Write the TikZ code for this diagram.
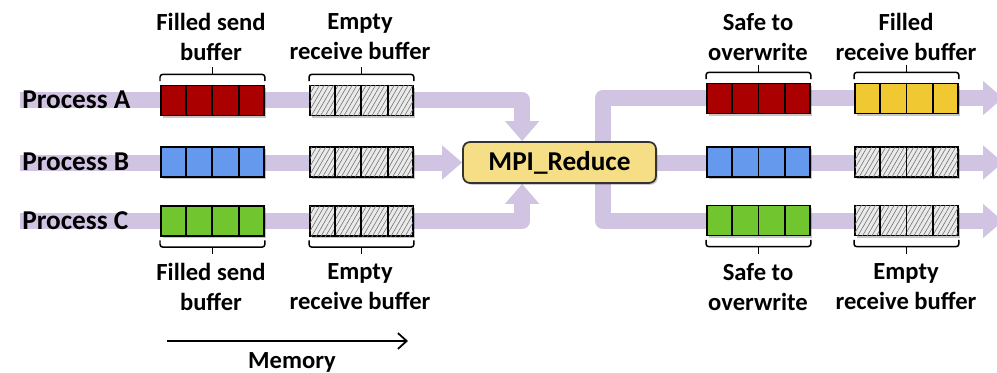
\documentclass[tikz,border=0pt]{standalone}
\usepackage{fontspec}
\setmainfont{Carlito}
\usetikzlibrary{arrows.meta,patterns.meta,shadows,calc,backgrounds}

\definecolor{bandc}{RGB}{209,195,226}
\definecolor{redc}{RGB}{170,0,0}
\definecolor{bluec}{RGB}{100,153,238}
\definecolor{greenc}{RGB}{113,198,47}
\definecolor{yellowc}{RGB}{240,200,50}
\definecolor{hatchbg}{RGB}{234,234,234}
\definecolor{mpic}{RGB}{246,222,135}

% a four-cell buffer: name, left x, centre y, cell style
\newcommand{\buffer}[4]{%
  \node[bufbox,#4,anchor=west] (#1) at (#2,#3) {};
  \foreach \k in {1,2,3}
    \draw[line width=1.1pt] ($(#1.north west)!\k/4!(#1.north east)$) -- ($(#1.south west)!\k/4!(#1.south east)$);
}
% bracket with a tick above / below a buffer
\newcommand{\bracketabove}[1]{%
  \draw[bracket] ([yshift=2pt]#1.north west) -- ([yshift=5.8pt]#1.north west) -- ([yshift=5.8pt]#1.north east) -- ([yshift=2pt]#1.north east);
  \draw[bracket] ([yshift=5.8pt]#1.north) -- ([yshift=9.8pt]#1.north);
}
\newcommand{\bracketbelow}[1]{%
  \draw[bracket] ([yshift=-2pt]#1.south west) -- ([yshift=-5.8pt]#1.south west) -- ([yshift=-5.8pt]#1.south east) -- ([yshift=-2pt]#1.south east);
  \draw[bracket] ([yshift=-5.8pt]#1.south) -- ([yshift=-9.8pt]#1.south);
}

\begin{document}
\begin{tikzpicture}[x=0.02cm,y=-0.02cm,
  band/.style={line width=0.32cm, draw=bandc, line join=round},
  headtip/.style={-{Triangle[length=0.4cm,width=0.66cm]}},
  bufbox/.style={rectangle, draw=black, line width=1.1pt, inner sep=0pt,
    minimum width=2.06cm, minimum height=0.6cm,
    drop shadow={shadow xshift=1.2pt, shadow yshift=-1.2pt, fill=black, opacity=0.22}},
  redcell/.style={fill=redc},
  bluecell/.style={fill=bluec},
  greencell/.style={fill=greenc},
  yellowcell/.style={fill=yellowc},
  emptycell/.style={fill=hatchbg, postaction={pattern={Lines[angle=60,distance=2.3pt,line width=0.35pt]}, pattern color=black!55}},
  bracket/.style={line width=0.85pt, rounded corners=1.6pt},
  lbl/.style={font=\fontsize{14}{17}\selectfont\bfseries, align=center, inner sep=0pt},
  proc/.style={font=\fontsize{15.5}{18}\selectfont\bfseries, anchor=west, inner sep=0pt},
]
\clip (0,0) rectangle (997,372);

% central operation
\node[rectangle, rounded corners=4pt, draw=black!80, line width=1pt, fill=mpic,
      minimum width=3.86cm, minimum height=0.82cm, inner sep=0pt,
      font=\fontsize{15.5}{18}\selectfont\bfseries,
      drop shadow={shadow xshift=1pt, shadow yshift=-1pt, fill=black, opacity=0.2}]
      (mpi) at (559.5,162.5) {MPI\_Reduce};

% process names
\node[proc] (pA) at (22,100) {Process A};
\node[proc] (pB) at (22,162) {Process B};
\node[proc] (pC) at (22,221) {Process C};

% buffers before the call
\buffer{sendA}{160}{100.5}{redcell}
\buffer{sendB}{160}{162}{bluecell}
\buffer{sendC}{160}{221}{greencell}
\buffer{recvA}{309}{100.5}{emptycell}
\buffer{recvB}{309}{162}{emptycell}
\buffer{recvC}{309}{221}{emptycell}

% buffers after the call
\buffer{safeA}{706}{98.5}{redcell}
\buffer{safeB}{706}{162}{bluecell}
\buffer{safeC}{706}{220.5}{greencell}
\buffer{outA}{854}{98.5}{yellowcell}
\buffer{outB}{854}{162}{emptycell}
\buffer{outC}{854}{220.5}{emptycell}

% brackets and captions
\bracketabove{sendA}
\bracketabove{recvA}
\bracketabove{safeA}
\bracketabove{outA}
\bracketbelow{sendC}
\bracketbelow{recvC}
\bracketbelow{safeC}
\bracketbelow{outC}

\node[lbl] (tl1) at (211,37) {Filled send\\buffer};
\node[lbl] (tl2) at (360,37) {Empty\\receive buffer};
\node[lbl] (tr1) at (758,37) {Safe to\\overwrite};
\node[lbl] (tr2) at (906,37) {Filled\\receive buffer};
\node[lbl] (bl1) at (211,287) {Filled send\\buffer};
\node[lbl] (bl2) at (360,287) {Empty\\receive buffer};
\node[lbl] (br1) at (758,287) {Safe to\\overwrite};
\node[lbl] (br2) at (906,287) {Empty\\receive buffer};

% memory direction
\coordinate (m0) at (167,341);
\coordinate (m1) at (408,341);
\draw[line width=1pt, -{Straight Barb[length=5pt,width=9pt]}] (m0) -- (m1);
\node[lbl] (mem) at (292,362) {Memory};

% flow bands
\coordinate (a0) at (20,100);
\coordinate (b0) at (20,162.5);
\coordinate (c0) at (20,221);
\coordinate (inA) at ($(mpi.north west)+(60,0)$);
\coordinate (inC) at ($(mpi.south west)+(60,0)$);
\coordinate (split) at (603,162);
\coordinate (endA) at (1003,98);
\coordinate (endB) at (1003,162.5);
\coordinate (endC) at (1003,221);
\begin{scope}[on background layer]
  \draw[band,headtip] (a0) -- (a0 -| inA) -- (inA);
  \draw[band,headtip] (b0) -- (mpi.west);
  \draw[band,headtip] (c0) -- (c0 -| inC) -- (inC);
  \draw[band,headtip] (mpi.east) -- (endB);
  \draw[band,{Triangle[length=0.4cm,width=0.66cm]}-{Triangle[length=0.4cm,width=0.66cm]}]
    (endA) -- (endA -| split) -- (endC -| split) -- (endC);
\end{scope}
\end{tikzpicture}
\end{document}
